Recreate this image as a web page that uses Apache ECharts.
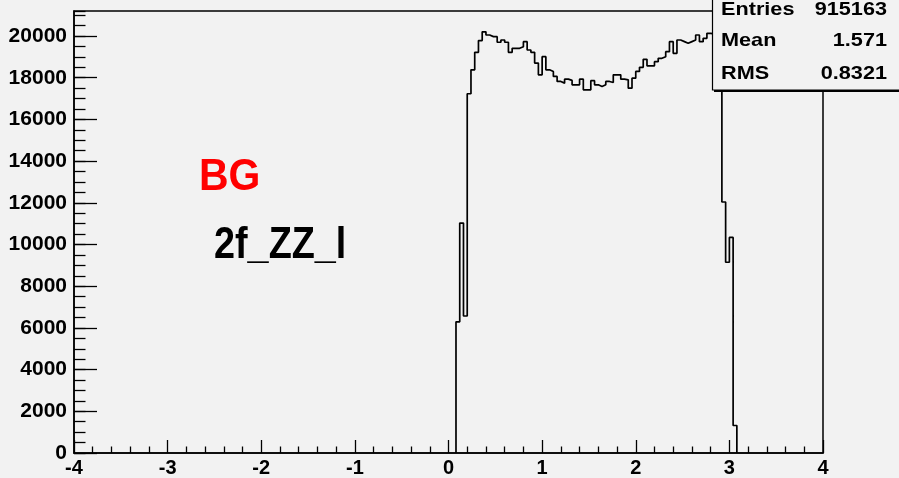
<!DOCTYPE html>
<html>
<head>
<meta charset="utf-8">
<script src="https://cdn.jsdelivr.net/npm/echarts@6/dist/echarts.min.js"></script>
<style>
html,body{margin:0;padding:0;background:#f2f2f2;}
#c{width:899px;height:478px;}
</style>
</head>
<body>
<div id="c"></div>
<script>
// Histogram definition: 200 bins from -4 to 4 (width 0.04); only non-empty bins listed
const binStart = 0.08;
const binWidth = 0.04;
const counts = [
  6290, 11030, 6570,
  17230, 18380, 19220, 19780, 20200, 20050, 19970, 19970, 19700, 19810,
  19700, 19220, 19410, 19410, 19490, 19730, 19330, 19220, 18700, 18140,
  19010, 18380, 18300, 18060, 17820, 17740, 17930, 17870, 17660, 17660,
  17930, 17420, 17420, 17860, 17660, 17580, 17660, 17820, 17770, 18140,
  18140, 17930, 17900, 17500, 17980, 18300, 18500, 18880, 18570, 18570,
  18770, 18930, 19010, 19250, 19730, 19170, 19810, 19730, 19650, 19730,
  19810, 20050, 19730, 19890, 20130, 20100, 20200, 20050, 12040, 9150,
  10340, 1320
];
const xTicks = [-4, -3, -2, -1, 0, 1, 2, 3, 4];
const yMax = 21200;
const stats = [["Entries", "915163"], ["Mean", "1.571"], ["RMS", "0.8321"]];
const labelBG = "BG";
const labelSample = "2f_ZZ_l";

const pts = [[binStart, 0]];
counts.forEach((c, i) => {
  const lo = +(binStart + i * binWidth).toFixed(4);
  const hi = +(binStart + (i + 1) * binWidth).toFixed(4);
  pts.push([lo, c], [hi, c]);
});
pts.push([+(binStart + counts.length * binWidth).toFixed(4), 0]);

const FONT = "Liberation Sans, Arial, Helvetica, sans-serif";
const BG = "#f2f2f2";
const chart = echarts.init(document.getElementById('c'), null, {renderer: 'canvas'});

const statTexts = [];
const statY = [9.5, 40.5, 74];
stats.forEach((s, i) => {
  statTexts.push({type: 'text', x: 721, y: statY[i], scaleX: 1.14, z: 102,
    style: {text: s[0], fill: '#000', font: 'bold 19px ' + FONT, align: 'left', verticalAlign: 'middle'}});
  statTexts.push({type: 'text', x: 887, y: statY[i], scaleX: 1.14, z: 102,
    style: {text: s[1], fill: '#000', font: 'bold 19px ' + FONT, align: 'right', verticalAlign: 'middle'}});
});

chart.setOption({
  backgroundColor: BG,
  animation: false,
  grid: {left: 74, top: 11, width: 749, height: 444, show: true, borderColor: '#000', borderWidth: 1.5, backgroundColor: 'transparent'},
  xAxis: {
    type: 'value', min: xTicks[0], max: xTicks[xTicks.length - 1], interval: 1,
    axisLine: {show: true, onZero: false, lineStyle: {color: '#000', width: 1.5}},
    axisTick: {show: true, inside: true, length: 13, lineStyle: {color: '#000', width: 1.3}},
    minorTick: {show: true, splitNumber: 5, length: 6.5, lineStyle: {color: '#000', width: 1.3}},
    splitLine: {show: false},
    axisLabel: {color: '#000', fontSize: 20, fontWeight: 'bold', fontFamily: FONT, margin: 5,
      formatter: v => String(v)}
  },
  yAxis: [{
    type: 'value', min: 0, max: yMax, interval: 2000,
    axisLine: {show: true, onZero: false, lineStyle: {color: '#000', width: 1.5}},
    axisTick: {show: true, inside: true, length: 23, lineStyle: {color: '#000', width: 1.3}},
    splitLine: {show: false},
    axisLabel: {color: '#000', fontSize: 21, fontWeight: 'bold', fontFamily: FONT, margin: 7,
      showMaxLabel: false, formatter: v => (v % 2000 === 0 ? String(v) : '')}
  }, {
    type: 'value', min: 0, max: yMax, interval: 500, position: 'left', offset: 0,
    axisLine: {show: false, onZero: false},
    axisTick: {show: true, inside: true, length: 11.5, lineStyle: {color: '#000', width: 1.3}},
    splitLine: {show: false},
    axisLabel: {show: false}
  }],
  series: [{
    type: 'line', data: pts, xAxisIndex: 0, yAxisIndex: 0,
    showSymbol: false, symbol: 'none', clip: true,
    lineStyle: {color: '#000', width: 1.7}, z: 3
  }],
  graphic: [
    {type: 'rect', shape: {x: 714, y: -5, width: 200, height: 97}, style: {fill: '#000'}, z: 100},
    {type: 'rect', shape: {x: 712.5, y: -5, width: 200, height: 95}, style: {fill: BG, stroke: '#000', lineWidth: 1.2}, z: 101},
    ...statTexts,
    {type: 'text', x: 199, y: 178, scaleX: 0.93, z: 50,
      style: {text: labelBG, fill: '#ff0000', font: 'bold 44px ' + FONT, align: 'left', verticalAlign: 'middle'}},
    {type: 'text', x: 214, y: 246, scaleX: 0.84, z: 50,
      style: {text: labelSample, fill: '#000', font: 'bold 45px ' + FONT, align: 'left', verticalAlign: 'middle'}}
  ]
});
</script>
</body>
</html>
